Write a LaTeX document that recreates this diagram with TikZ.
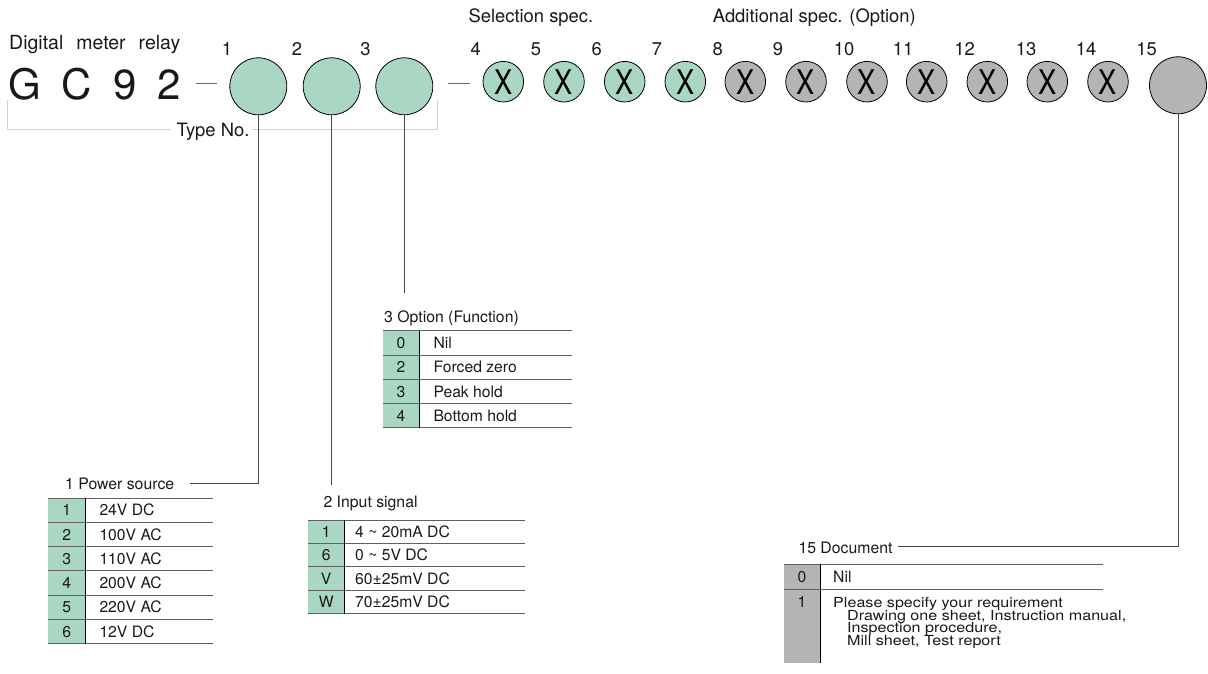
\documentclass[tikz,border=0pt]{standalone}
\usepackage{fontspec}
\setmainfont{TeX Gyre Heros}
\newfontfamily\widefont[FakeStretch=1.16]{TeX Gyre Heros}
\usepackage{graphicx}
\definecolor{mgreen}{RGB}{169,215,196}
\definecolor{mgray}{RGB}{180,180,180}
\definecolor{brgreen}{RGB}{184,222,207}
\definecolor{txt}{RGB}{25,25,25}
\newcommand\fsz[1]{\fontsize{#1}{#1}\selectfont}
\begin{document}
\begin{tikzpicture}[x=1pt,y=-1pt,
  bigcirc/.style={circle, draw=black, line width=0.8pt, minimum size=57pt, inner sep=0pt},
  smallcirc/.style={circle, draw=black, line width=0.8pt, minimum size=40.6pt, inner sep=0pt, font=\fsz{34}},
  numlab/.style={anchor=base, inner sep=0pt, font=\fsz{18.4}, text=txt},
  hdr/.style={anchor=base west, inner sep=0pt, font=\fsz{18.4}, text=txt},
  thead/.style={anchor=base west, inner sep=0pt, font=\fsz{15.8}, text=txt},
  tnum/.style={inner sep=0pt, text height=11.2pt, text depth=0pt, font=\fsz{15.7}, text=txt},
  ttext/.style={tnum, anchor=west},
  tsmall/.style={anchor=base west, inner sep=0pt, font=\widefont\fsz{13.9}, text=txt},
  conn/.style={draw=black!72, line width=0.9pt},
  tline/.style={draw=black!62, line width=0.9pt},
  tsep/.style={draw=black, line width=1pt},
  bracket/.style={draw=brgreen, line width=1.4pt},
  dashln/.style={draw=black!60, line width=1pt}]
\useasboundingbox (0,0) rectangle (1208,674);

% ---- titles
\node[anchor=base west, inner sep=0pt, font=\fsz{19.5}, text=txt] (title) at (9,50) {Digital\hspace{13pt}meter\hspace{13pt}relay};
\node[anchor=base west, inner sep=0pt, font=\fsz{42}, text=txt] (gc) at (8,100)
  {G\hspace{21pt}C\hspace{21pt}9\hspace{21pt}2};
\node[hdr] (sel) at (468.3,22.7) {Selection spec.};
\node[hdr] (add) at (712.7,22.7) {Additional spec. (Option)};

% ---- circles
\node[bigcirc, fill=mgreen] (c1) at (258.3,86.3) {};
\node[bigcirc, fill=mgreen] (c2) at (331.7,86.3) {};
\node[bigcirc, fill=mgreen] (c3) at (404.3,86.3) {};
\node[smallcirc, fill=mgreen] (c4) at (503.3,81.7) {\scalebox{0.8}[1]{X}};
\node[smallcirc, fill=mgreen] (c5) at (564,81.7) {\scalebox{0.8}[1]{X}};
\node[smallcirc, fill=mgreen] (c6) at (624.7,81.7) {\scalebox{0.8}[1]{X}};
\node[smallcirc, fill=mgreen] (c7) at (685.3,81.7) {\scalebox{0.8}[1]{X}};
\node[smallcirc, fill=mgray] (c8) at (745.3,81.7) {\scalebox{0.8}[1]{X}};
\node[smallcirc, fill=mgray] (c9) at (806,81.7) {\scalebox{0.8}[1]{X}};
\node[smallcirc, fill=mgray] (c10) at (867,81.7) {\scalebox{0.8}[1]{X}};
\node[smallcirc, fill=mgray] (c11) at (926.7,81.7) {\scalebox{0.8}[1]{X}};
\node[smallcirc, fill=mgray] (c12) at (987.3,81.7) {\scalebox{0.8}[1]{X}};
\node[smallcirc, fill=mgray] (c13) at (1047.3,81.7) {\scalebox{0.8}[1]{X}};
\node[smallcirc, fill=mgray] (c14) at (1108,81.7) {\scalebox{0.8}[1]{X}};
\node[bigcirc, fill=mgray] (c15) at (1178,85.3) {};

% ---- circle numbers
\node[numlab] (n1) at (227,55.5) {1};
\node[numlab] (n2) at (297,55.5) {2};
\node[numlab] (n3) at (365.5,55.5) {3};
\node[numlab] (n4) at (475.7,55.5) {4};
\node[numlab] (n5) at (536,55.5) {5};
\node[numlab] (n6) at (596.7,55.5) {6};
\node[numlab] (n7) at (657,55.5) {7};
\node[numlab] (n8) at (717.7,55.5) {8};
\node[numlab] (n9) at (778,55.5) {9};
\node[numlab] (n10) at (844,55.5) {10};
\node[numlab] (n11) at (903,55.5) {11};
\node[numlab] (n12) at (964.5,55.5) {12};
\node[numlab] (n13) at (1026,55.5) {13};
\node[numlab] (n14) at (1086,55.5) {14};
\node[numlab] (n15) at (1146.5,55.5) {15};

% ---- dashes
\coordinate (d1a) at (196,84);
\coordinate (d1b) at (217,84);
\coordinate (d2a) at (448.3,83.3);
\coordinate (d2b) at (470,83.3);
\draw[dashln] (d1a) -- (d1b);
\draw[dashln] (d2a) -- (d2b);

% ---- Type No. bracket
\node[anchor=base, inner sep=0pt, font=\fsz{18.4}, text=txt] (tn) at (213,137) {Type No.};
\coordinate (bl) at (7.5,100);
\coordinate (blr) at (171,129.3);
\coordinate (brl) at (252,129.3);
\coordinate (br) at (437.3,100);
\draw[bracket] (bl) |- (blr);
\draw[bracket] (brl) -| (br);

% ---- connectors
\coordinate (p1) at (190,483);
\coordinate (p2) at (331.7,485);
\coordinate (p3) at (404.3,293);
\coordinate (p15) at (898,546);
\draw[conn] (c1.south) |- (p1);
\draw[conn] (c2.south) -- (p2);
\draw[conn] (c3.south) -- (p3);
\draw[conn] (c15.south) |- (p15);

% ---- Table 1 Power source
\node[thead] (h1) at (65,489.3) {1 Power source};
\fill[mgreen] (48.3,498) rectangle (85,643.8);
\foreach \yy in {498,522.3,546.6,570.9,595.2,619.5,643.8}
  \draw[tline] (48.3,\yy) -- (212.7,\yy);
\draw[tsep] (85,498) -- (85,643.8);
\node[tnum] (a1) at (66.7,510.2) {1};
\node[tnum] (a2) at (66.7,534.5) {2};
\node[tnum] (a3) at (66.7,558.8) {3};
\node[tnum] (a4) at (66.7,583) {4};
\node[tnum] (a5) at (66.7,607.3) {5};
\node[tnum] (a6) at (66.7,631.6) {6};
\node[ttext] (b1) at (99.3,510.2) {24V DC};
\node[ttext] (b2) at (99.3,534.5) {100V AC};
\node[ttext] (b3) at (99.3,558.8) {110V AC};
\node[ttext] (b4) at (99.3,583) {200V AC};
\node[ttext] (b5) at (99.3,607.3) {220V AC};
\node[ttext] (b6) at (99.3,631.6) {12V DC};

% ---- Table 2 Input signal
\node[thead] (h2) at (323.3,507.5) {2 Input signal};
\fill[mgreen] (308.3,520) rectangle (344,613.6);
\foreach \yy in {520,543.4,566.8,590.2,613.6}
  \draw[tline] (308.3,\yy) -- (525,\yy);
\draw[tsep] (344,520) -- (344,613.6);
\node[tnum] (e1) at (326.2,531.7) {1};
\node[tnum] (e2) at (326.2,555.1) {6};
\node[tnum] (e3) at (326.2,578.5) {V};
\node[tnum] (e4) at (326.2,601.9) {W};
\node[ttext] (f1) at (355,531.7) {4 \char"007E{} 20mA DC};
\node[ttext] (f2) at (355,555.1) {0 \char"007E{} 5V DC};
\node[ttext] (f3) at (355,578.5) {60±25mV DC};
\node[ttext] (f4) at (355,601.9) {70±25mV DC};

% ---- Table 3 Option (Function)
\node[thead] (h3) at (384,322.7) {3 Option (Function)};
\fill[mgreen] (383.3,330.7) rectangle (419,427.9);
\foreach \yy in {330.7,355,379.3,403.6,427.9}
  \draw[tline] (383.3,\yy) -- (572,\yy);
\draw[tsep] (419,330.7) -- (419,427.9);
\node[tnum] (g1) at (401,342.8) {0};
\node[tnum] (g2) at (401,367.1) {2};
\node[tnum] (g3) at (401,391.4) {3};
\node[tnum] (g4) at (401,415.7) {4};
\node[ttext] (k1) at (433.3,342.8) {Nil};
\node[ttext] (k2) at (433.3,367.1) {Forced zero};
\node[ttext] (k3) at (433.3,391.4) {Peak hold};
\node[ttext] (k4) at (433.3,415.7) {Bottom hold};

% ---- Table 15 Document
\node[thead] (h15) at (798.3,553.3) {15 Document};
\fill[mgray] (784,564.3) rectangle (820,663);
\foreach \yy in {564.3,589}
  \draw[tline] (784,\yy) -- (1103,\yy);
\draw[tsep] (820,564.3) -- (820,663);
\node[tnum] (m0) at (802,576.7) {0};
\node[tnum] (m1) at (802,602) {1};
\node[ttext] (q0) at (833,576.7) {Nil};
\node[tsmall] (q1) at (833,607.3) {Please specify your requirement};
\node[tsmall] (q2) at (847,620) {Drawing one sheet, Instruction manual,};
\node[tsmall] (q3) at (847,632.6) {Inspection procedure,};
\node[tsmall] (q4) at (847,645.2) {Mill sheet, Test report};
\end{tikzpicture}
\end{document}
